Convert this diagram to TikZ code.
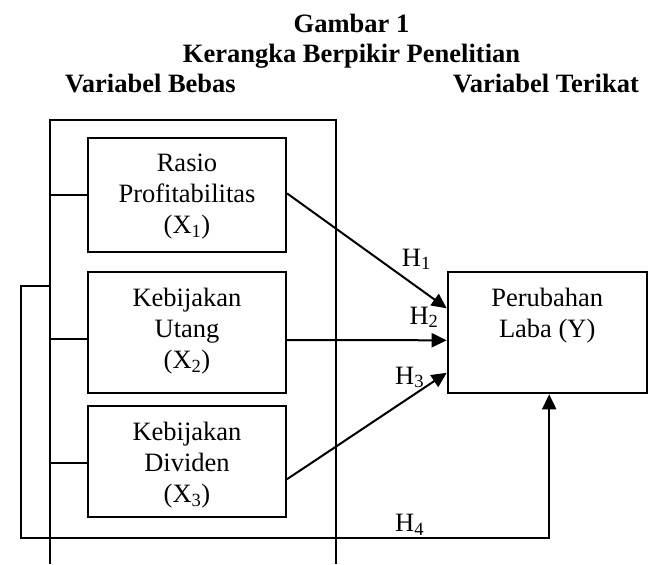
\documentclass[tikz,border=0pt]{standalone}
\usepackage{fontspec}
\setmainfont{Liberation Serif}
\usetikzlibrary{arrows.meta,calc}
\begin{document}
\begin{tikzpicture}[x=1pt,y=-1pt,
  every node/.style={font=\fontsize{26.5}{31}\selectfont},
  box/.style={draw, line width=2pt, inner sep=0pt},
  boxtext/.style={anchor=north, align=center, inner sep=0pt},
  ln/.style={line width=2pt},
  arr/.style={line width=2pt, -{Triangle[length=15pt,width=14pt]}},
  hlab/.style={anchor=base west, inner sep=0pt},
  ttl/.style={font=\fontsize{26.5}{31}\selectfont\bfseries, inner sep=0pt}]
\useasboundingbox (0,0) rectangle (652,564);

% titles
\node[ttl, anchor=base] (g1) at (351.5,33) {Gambar 1};
\node[ttl, anchor=base] (kb) at (351.5,63) {Kerangka Berpikir Penelitian};
\node[ttl, anchor=base west] (vb) at (65,93) {Variabel Bebas};
\node[ttl, anchor=base east] (vt) at (639,93) {Variabel Terikat};

% outer frame (open at bottom)
\coordinate (oa) at (50,564);
\coordinate (ob) at (50,120);
\coordinate (oc) at (336,120);
\coordinate (od) at (336,564);
\draw[ln] (oa) -- (ob) -- (oc) -- (od);

% boxes
\node[box, minimum width=198pt, minimum height=114.3pt] (b1) at (187,194.85) {};
\node[box, minimum width=198pt, minimum height=121pt] (b2) at (187,332.5) {};
\node[box, minimum width=198pt, minimum height=111pt] (b3) at (187,461.2) {};
\node[box, minimum width=199pt, minimum height=121pt] (y) at (547.2,332.8) {};

\node[boxtext] (t1) at ($(b1.north)+(0,17)$) {Rasio\\Profitabilitas\\(X\textsubscript{1})};
\node[boxtext] (t2) at ($(b2.north)+(0,17)$) {Kebijakan\\Utang\\(X\textsubscript{2})};
\node[boxtext] (t3) at ($(b3.north)+(0,17)$) {Kebijakan\\Dividen\\(X\textsubscript{3})};
\node[boxtext] (ty) at ($(y.north)+(0,17)$) {Perubahan\\Laba (Y)};

% attachment points
\coordinate (w1) at (b1.west);
\coordinate (w2) at ([yshift=-6.5pt]b2.west);
\coordinate (w3) at ([yshift=-1.5pt]b3.west);
\coordinate (e1) at ([yshift=1.5pt]b1.east);
\coordinate (e2) at ([yshift=-7.5pt]b2.east);
\coordinate (e3) at ([yshift=-18pt]b3.east);
\coordinate (y1) at ([yshift=24.5pt]y.west);
\coordinate (y2) at ([yshift=-7.5pt]y.west);
\coordinate (y3) at ([yshift=-40pt]y.west);
\coordinate (ys) at ([xshift=2pt]y.south);

% ticks from frame to boxes
\draw[ln] (ob |- w1) -- (w1);
\draw[ln] (ob |- w2) -- (w2);
\draw[ln] (ob |- w3) -- (w3);

% hypotheses arrows
\draw[arr] (e1) -- (y1);
\draw[arr] (e2) -- (y2);
\draw[arr] (e3) -- (y3);

% H4 loop
\coordinate (fb) at (50,286);
\coordinate (fl) at (21,286);
\coordinate (fd) at (21,538);
\draw[arr] (fb) -- (fl) -- (fd) -- (ys |- fd) -- (ys);

% labels
\node[hlab] (h1) at (401.7,266) {H\textsubscript{1}};
\node[hlab] (h2) at (409.3,324) {H\textsubscript{2}};
\node[hlab] (h3) at (395,384) {H\textsubscript{3}};
\node[hlab] (h4) at (395,531.7) {H\textsubscript{4}};
\end{tikzpicture}
\end{document}
